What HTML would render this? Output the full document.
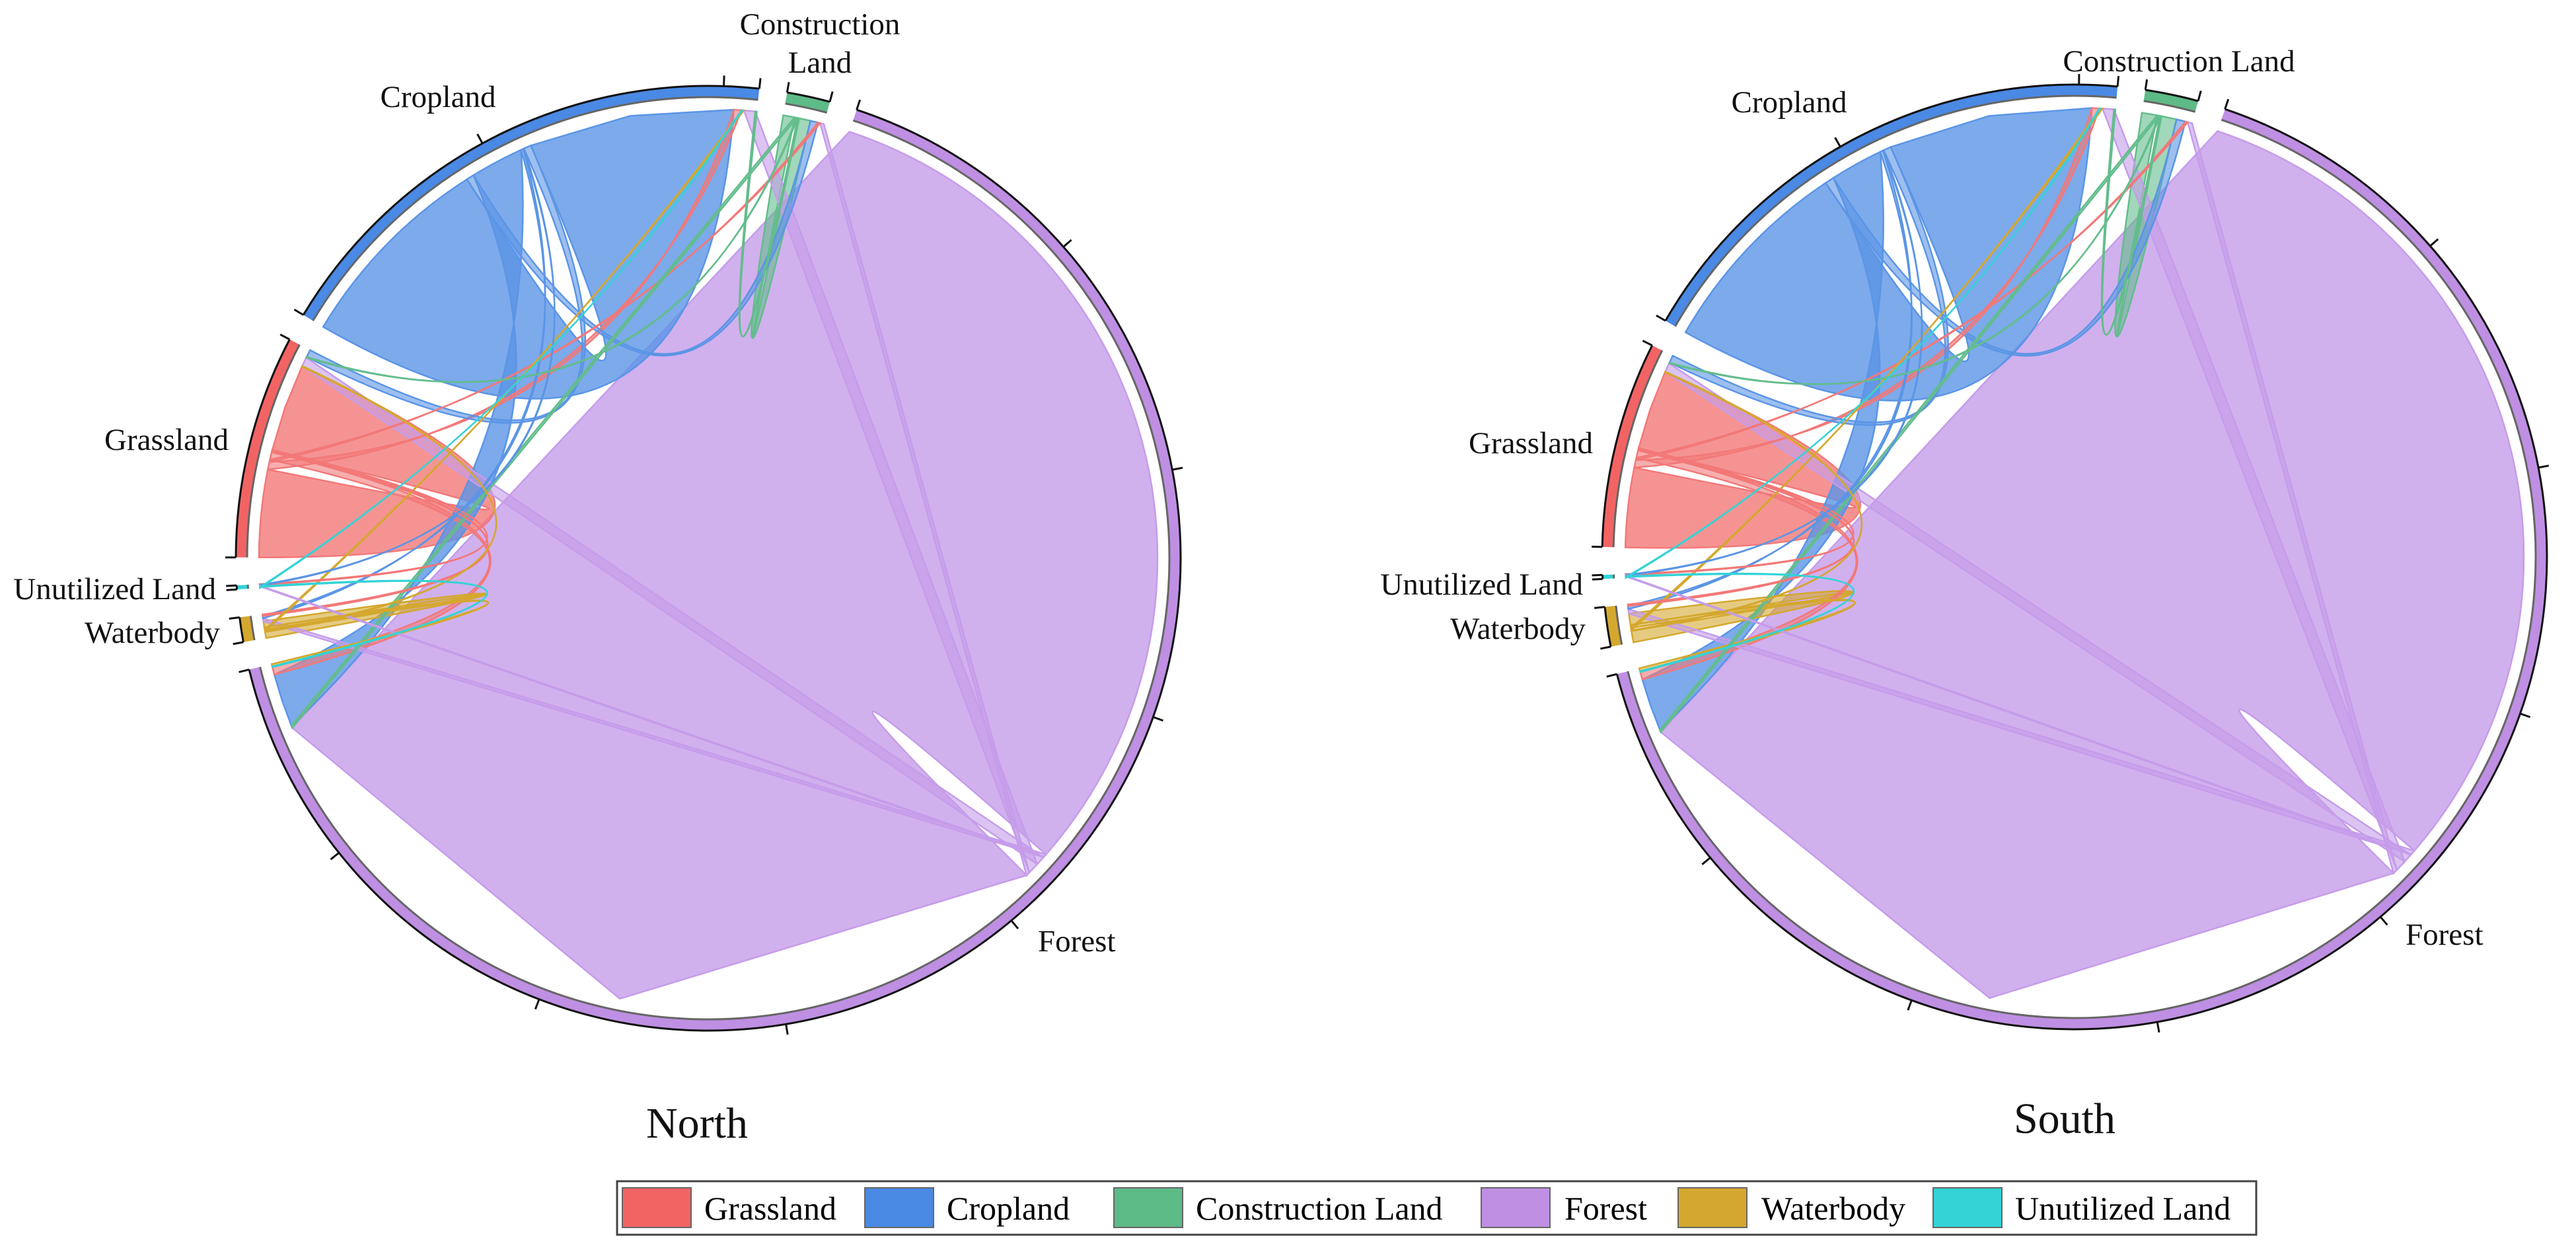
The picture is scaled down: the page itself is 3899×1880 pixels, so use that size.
<!DOCTYPE html>
<html><head><meta charset="utf-8"><title>North / South land-use transfer chord diagrams</title>
<style>
html,body{margin:0;padding:0;background:#fff;}
svg{display:block;font-family:"Liberation Serif",serif;}
</style></head>
<body>
<svg id="chart" width="3899" height="1880" viewBox="0 0 3899 1880" xmlns="http://www.w3.org/2000/svg">
  <rect x="0" y="0" width="3899" height="1880" fill="#fff"/>
  <g id="north"></g>
  <g id="south"></g>

  <g font-size="47" fill="#111">
    <text x="663" y="162" text-anchor="middle">Cropland</text>
    <text x="1241" y="52" text-anchor="middle">Construction</text>
    <text x="1241" y="110" text-anchor="middle">Land</text>
    <text x="346" y="681" text-anchor="end">Grassland</text>
    <text x="327" y="907" text-anchor="end">Unutilized Land</text>
    <text x="333" y="973" text-anchor="end">Waterbody</text>
    <text x="1571" y="1440">Forest</text>
  </g>
  <text x="1055" y="1722" font-size="66" text-anchor="middle" fill="#111">North</text>

  <g font-size="47" fill="#111">
    <text x="2708" y="170" text-anchor="middle">Cropland</text>
    <text x="3298" y="108" text-anchor="middle">Construction Land</text>
    <text x="2411" y="686" text-anchor="end">Grassland</text>
    <text x="2396" y="900" text-anchor="end">Unutilized Land</text>
    <text x="2400" y="967" text-anchor="end">Waterbody</text>
    <text x="3641" y="1430">Forest</text>
  </g>
  <text x="3125" y="1715" font-size="66" text-anchor="middle" fill="#111">South</text>

  <g>
    <rect x="934" y="1788" width="2481" height="81" fill="#fff" stroke="#444" stroke-width="3"/>
    <g>
      <rect x="942" y="1798" width="104" height="60" fill="#f26464" stroke="#666" stroke-width="2"/>
      <text x="1066" y="1846" font-size="50">Grassland</text></g>
    <g>
      <rect x="1309" y="1798" width="104" height="60" fill="#4a89e4" stroke="#666" stroke-width="2"/>
      <text x="1433" y="1846" font-size="50">Cropland</text></g>
    <g>
      <rect x="1686" y="1798" width="104" height="60" fill="#5dbb87" stroke="#666" stroke-width="2"/>
      <text x="1810" y="1846" font-size="50">Construction Land</text></g>
    <g>
      <rect x="2242" y="1798" width="104" height="60" fill="#bf8fe3" stroke="#666" stroke-width="2"/>
      <text x="2368" y="1846" font-size="50">Forest</text></g>
    <g>
      <rect x="2540" y="1798" width="104" height="60" fill="#d4a82e" stroke="#666" stroke-width="2"/>
      <text x="2666" y="1846" font-size="50">Waterbody</text></g>
    <g>
      <rect x="2926" y="1798" width="104" height="60" fill="#33d3d6" stroke="#666" stroke-width="2"/>
      <text x="3050" y="1846" font-size="50">Unutilized Land</text></g>
  </g>
</svg>
<script>
// Categories (matrix index order)
const categories = ['Grassland','Cropland','Construction Land','Forest','Waterbody','Unutilized Land'];
// Clockwise drawing order around the circle
const layoutOrder = [1,2,3,4,5,0];
// Flow matrices: row = from, column = to; diagonal = unchanged (self-loop) flow
const northFlows = [
  [11.5,1,   0.3, 1,   0.2, 0.1],
  [1,   27,  1,   7,   0.3, 0.1],
  [0.1, 0.2, 1.5, 0.3, 0,   0  ],
  [1.2, 1.5, 0.5, 115, 0.4, 0.1],
  [0.1, 0.2, 0,   0.3, 0.8, 0  ],
  [0,   0.1, 0,   0.1, 0,   0  ]
];
const southFlows = [
  [10.5,1,   0.3, 1,   0.2, 0.1],
  [1,   27,  1.2, 7,   0.4, 0.1],
  [0.1, 0.2, 2,   0.3, 0,   0  ],
  [1.2, 1.5, 0.6, 115, 0.6, 0.1],
  [0.1, 0.3, 0,   0.4, 1.5, 0  ],
  [0,   0.1, 0,   0.1, 0,   0  ]
];
const tickStep = 31;

const arcColors = ['#f26464','#4a89e4','#5dbb87','#bf8fe3','#d4a82e','#33d3d6'];
const ribbonColors = ['#f37878','#5b95e6','#63bd8c','#c59cea','#d4a82e','#33d3d6'];
const NS = 'http://www.w3.org/2000/svg';
const slug = s => s.toLowerCase().replace(/\s+/g,'-');

function drawChord(gId, prefix, cx, cy, M, startAng) {
  const g = document.getElementById(gId);
  const gap = 3.4, RO = 715, RI = 698, RC = 680;
  const n = categories.length;
  const P = (a, r) => { const t = a*Math.PI/180; return [cx + r*Math.sin(t), cy - r*Math.cos(t)]; };
  const tot = categories.map((c,i)=>{ let s=2*M[i][i]; for(let j=0;j<n;j++){ if(j!==i) s+=M[i][j]+M[j][i]; } return s; });
  const sum = tot.reduce((a,b)=>a+b,0);
  const dpu = (360 - n*gap)/sum;
  const gs = [], ge = [];
  let a = startAng;
  layoutOrder.forEach(k=>{ gs[k]=a; ge[k]=a+tot[k]*dpu; a=ge[k]+gap; });

  const srcEnd = {}, tgtEnd = {};
  layoutOrder.forEach((k,pos)=>{
    let cur = gs[k];
    const others = [];
    for (let s=1;s<n;s++) others.push(layoutOrder[(pos+s)%n]);
    if (M[k][k]>0){ srcEnd[k+'_'+k]=[cur,cur+M[k][k]*dpu]; cur+=M[k][k]*dpu; }
    others.forEach(h=>{ if(M[k][h]>0){ srcEnd[k+'_'+h]=[cur,cur+M[k][h]*dpu]; cur+=M[k][h]*dpu; } });
    if (M[k][k]>0){ tgtEnd[k+'_'+k]=[cur,cur+M[k][k]*dpu]; cur+=M[k][k]*dpu; }
    others.slice().reverse().forEach(h=>{ if(M[h][k]>0){ tgtEnd[h+'_'+k]=[cur,cur+M[h][k]*dpu]; cur+=M[h][k]*dpu; } });
  });

  const ctrl = (t1, t2) => {
    let d = Math.abs(t2 - t1) % 360; if (d > 180) d = 360 - d;
    const k = Math.max(0, Math.min(1, (d-60)/50));
    const p1 = P(t1,RC), p2 = P(t2,RC);
    const mx = (p1[0]+p2[0])/2, my = (p1[1]+p2[1])/2;
    return [cx + (mx-cx)*k, cy + (my-cy)*k];
  };

  const links = [];
  for (let i=0;i<n;i++) for (let j=0;j<n;j++) if (M[i][j]>0) links.push([i,j,M[i][j]]);
  links.sort((x,y)=>y[2]-x[2]);
  const ribG = document.createElementNS(NS,'g');
  
  
  g.appendChild(ribG);
  links.forEach(([i,j,v])=>{
    const A = srcEnd[i+'_'+j], B = tgtEnd[i+'_'+j];
    const a1=P(A[0],RC), a2=P(A[1],RC), b1=P(B[0],RC), b2=P(B[1],RC), bm=P((B[0]+B[1])/2,RC);
    const la = (A[1]-A[0])>180?1:0;
    const c1 = ctrl(A[1],B[0]), c2 = ctrl(B[1],A[0]);
    const d = `M${a1[0]},${a1[1]} A${RC},${RC} 0 ${la} 1 ${a2[0]},${a2[1]} Q${c1[0]},${c1[1]} ${b1[0]},${b1[1]} L${bm[0]},${bm[1]} L${b2[0]},${b2[1]} Q${c2[0]},${c2[1]} ${a1[0]},${a1[1]} Z`;
    const p = document.createElementNS(NS,'path');
    p.setAttribute('d', d);
    p.setAttribute('fill', ribbonColors[i]);
    p.setAttribute('fill-opacity', v>3 ? '0.8' : '0.6');
    p.setAttribute('stroke', ribbonColors[i]);
    p.setAttribute('stroke-width', '2.5');
    
    
    ribG.appendChild(p);
  });

  layoutOrder.forEach(k=>{
    const s=gs[k], e=ge[k], lg=(e-s)>180?1:0;
    const o1=P(s,RO), o2=P(e,RO), i1=P(s,RI), i2=P(e,RI);
    const arc = document.createElementNS(NS,'path');
    arc.setAttribute('d', `M${o1[0]},${o1[1]} A${RO},${RO} 0 ${lg} 1 ${o2[0]},${o2[1]} L${i2[0]},${i2[1]} A${RI},${RI} 0 ${lg} 0 ${i1[0]},${i1[1]} Z`);
    arc.setAttribute('fill', arcColors[k]);
    
    
    g.appendChild(arc);
    const outer = document.createElementNS(NS,'path');
    outer.setAttribute('d', `M${o1[0]},${o1[1]} A${RO},${RO} 0 ${lg} 1 ${o2[0]},${o2[1]}`);
    outer.setAttribute('fill','none'); outer.setAttribute('stroke','#111'); outer.setAttribute('stroke-width','3');
    
    
    g.appendChild(outer);
    const inner = document.createElementNS(NS,'path');
    inner.setAttribute('d', `M${i1[0]},${i1[1]} A${RI},${RI} 0 ${lg} 1 ${i2[0]},${i2[1]}`);
    inner.setAttribute('fill','none'); inner.setAttribute('stroke','#666'); inner.setAttribute('stroke-width','3');
    
    
    g.appendChild(inner);
    const tickAngles = [s, e];
    for (let t=tickStep; t<tot[k]-1; t+=tickStep) tickAngles.push(s + t*dpu);
    tickAngles.forEach(ta=>{
      const p1=P(ta,RO), p2=P(ta,RO+16);
      const tl = document.createElementNS(NS,'line');
      tl.setAttribute('x1',p1[0]); tl.setAttribute('y1',p1[1]);
      tl.setAttribute('x2',p2[0]); tl.setAttribute('y2',p2[1]);
      tl.setAttribute('stroke','#111'); tl.setAttribute('stroke-width','3');
      
      
      g.appendChild(tl);
    });
  });
}
drawChord('north','north',1072,845,northFlows,301);
drawChord('south','south',3140,843,southFlows,300);
</script>
</body></html>
